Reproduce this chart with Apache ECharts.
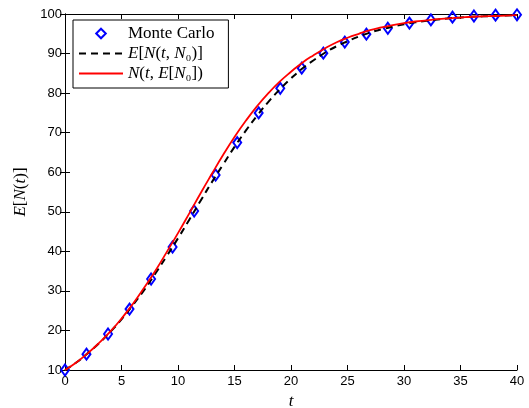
<!DOCTYPE html>
<html>
<head>
<meta charset="utf-8">
<script src="https://cdn.jsdelivr.net/npm/echarts@6/dist/echarts.min.js"></script>
<style>
  html, body { margin: 0; padding: 0; background: #fff; }
  #chart { width: 529px; height: 408px; }
</style>
</head>
<body>
<div id="chart"></div>
<script>
// Monte Carlo samples (22 points, evenly spaced over 0..40)
const mcT = [0, 1.9, 3.81, 5.71, 7.62, 9.52, 11.43, 13.33, 15.24, 17.14, 19.05,
  20.95, 22.86, 24.76, 26.67, 28.57, 30.48, 32.38, 34.29, 36.19, 38.1, 40];
const mcVal = [10, 14.0, 19.1, 25.4, 33.0, 41.1, 50.2, 59.3, 67.5, 75.0, 81.2,
  86.3, 90.1, 92.9, 94.9, 96.4, 97.7, 98.5, 99.2, 99.5, 99.7, 99.8];

// curves read at t = 0, 1, ..., 40
const curveT = [0, 1, 2, 3, 4, 5, 6, 7, 8, 9, 10, 11, 12, 13, 14, 15, 16, 17, 18, 19, 20,
  21, 22, 23, 24, 25, 26, 27, 28, 29, 30, 31, 32, 33, 34, 35, 36, 37, 38, 39, 40];
const expectedN = [10, 11.9, 14.2, 16.7, 19.6, 22.8, 26.4, 30.2, 34.4, 38.8, 43.3,
  48.0, 52.8, 57.5, 62.0, 66.4, 70.5, 74.3, 77.8, 80.9, 83.7,
  86.2, 88.3, 90.2, 91.8, 93.1, 94.3, 95.3, 96.1, 96.8, 97.4,
  97.9, 98.3, 98.6, 98.9, 99.1, 99.3, 99.4, 99.5, 99.6, 99.7];
const nOfMean = [10, 11.9, 14.2, 16.8, 19.7, 23.0, 26.7, 30.8, 35.1, 39.8, 44.6,
  49.6, 54.7, 59.6, 64.4, 68.9, 73.0, 76.7, 80.0, 82.9, 85.4,
  87.7, 89.6, 91.3, 92.8, 94.0, 95.0, 95.9, 96.6, 97.2, 97.7,
  98.1, 98.4, 98.7, 98.9, 99.1, 99.3, 99.4, 99.5, 99.6, 99.7];

const xTicks = [0, 40, 5];
const yTicks = [10, 100, 10];

const serif = "'Liberation Serif', 'DejaVu Serif', serif";
const sans = "'Liberation Sans', Arial, sans-serif";
const rich = {
  i: { fontFamily: serif, fontStyle: 'italic', fontSize: 17, color: '#000' },
  n: { fontFamily: serif, fontSize: 17, color: '#000' }
};

const zip = (xs, ys) => xs.map((x, k) => [x, ys[k]]);

const tickIn = { show: true, inside: true, length: 5, lineStyle: { color: '#000' } };
const axLine = { show: true, lineStyle: { color: '#000', width: 1 } };

const chart = echarts.init(document.getElementById('chart'));
chart.setOption({
  animation: false,
  backgroundColor: '#fff',
  grid: { left: 65, right: 12, top: 14, bottom: 38, containLabel: false, outerBoundsMode: 'none' },
  legend: {
    left: 73, top: 20,
    orient: 'vertical',
    itemGap: 3,
    itemWidth: 44, itemHeight: 12,
    padding: [5, 14, 6, 5],
    borderColor: '#000', borderWidth: 1, borderRadius: 0,
    backgroundColor: '#fff',
    data: [
      { name: 'Monte Carlo', icon: 'inherit', lineStyle: { opacity: 0 } },
      { name: 'EN', itemStyle: { opacity: 0 } },
      { name: 'NE', itemStyle: { opacity: 0 } }
    ],
    formatter: name => {
      if (name === 'Monte Carlo') return '{n|Monte Carlo}';
      if (name === 'EN') return '{i|E}{n|[}{i|N}{n|(}{i|t}{n|, }{i|N}{n|₀)]}';
      return '{i|N}{n|(}{i|t}{n|, }{i|E}{n|[}{i|N}{n|₀])}';
    },
    textStyle: { rich: rich, fontSize: 17 }
  },
  xAxis: [{
    type: 'value', min: xTicks[0], max: xTicks[1], interval: xTicks[2],
    name: '{i|t}', nameLocation: 'middle', nameGap: 22,
    nameTextStyle: { rich: rich },
    axisLine: axLine, axisTick: tickIn, splitLine: { show: false },
    axisLabel: { color: '#000', fontFamily: sans, fontSize: 13, margin: 5 }
  }, {
    type: 'value', position: 'top', min: xTicks[0], max: xTicks[1], interval: xTicks[2],
    axisLine: axLine, axisTick: tickIn, splitLine: { show: false },
    axisLabel: { show: false }
  }],
  yAxis: [{
    type: 'value', min: yTicks[0], max: yTicks[1], interval: yTicks[2],
    name: '{i|E}{n|[}{i|N}{n|(}{i|t}{n|)]}', nameLocation: 'middle', nameGap: 30,
    nameTextStyle: { rich: rich },
    axisLine: axLine, axisTick: tickIn, splitLine: { show: false },
    axisLabel: { color: '#000', fontFamily: sans, fontSize: 13, margin: 3 }
  }, {
    type: 'value', position: 'right', min: yTicks[0], max: yTicks[1], interval: yTicks[2],
    axisLine: axLine, axisTick: tickIn, splitLine: { show: false },
    axisLabel: { show: false }
  }],
  series: [{
    name: 'Monte Carlo',
    type: 'line',
    data: zip(mcT, mcVal),
    symbol: 'diamond',
    symbolSize: [8, 11],
    showAllSymbol: true,
    lineStyle: { width: 0, opacity: 0 },
    itemStyle: { color: 'rgba(255,255,255,0)', borderColor: '#0000ff', borderWidth: 2 },
    z: 3
  }, {
    name: 'EN',
    type: 'line',
    data: zip(curveT, expectedN),
    symbol: 'none',
    smooth: true,
    lineStyle: { color: '#000', width: 2, type: [7, 5] },
    itemStyle: { color: '#000' },
    z: 4
  }, {
    name: 'NE',
    type: 'line',
    data: zip(curveT, nOfMean),
    symbol: 'none',
    smooth: true,
    lineStyle: { color: '#ff0000', width: 1.8 },
    itemStyle: { color: '#ff0000' },
    z: 5
  }]
});
</script>
</body>
</html>
